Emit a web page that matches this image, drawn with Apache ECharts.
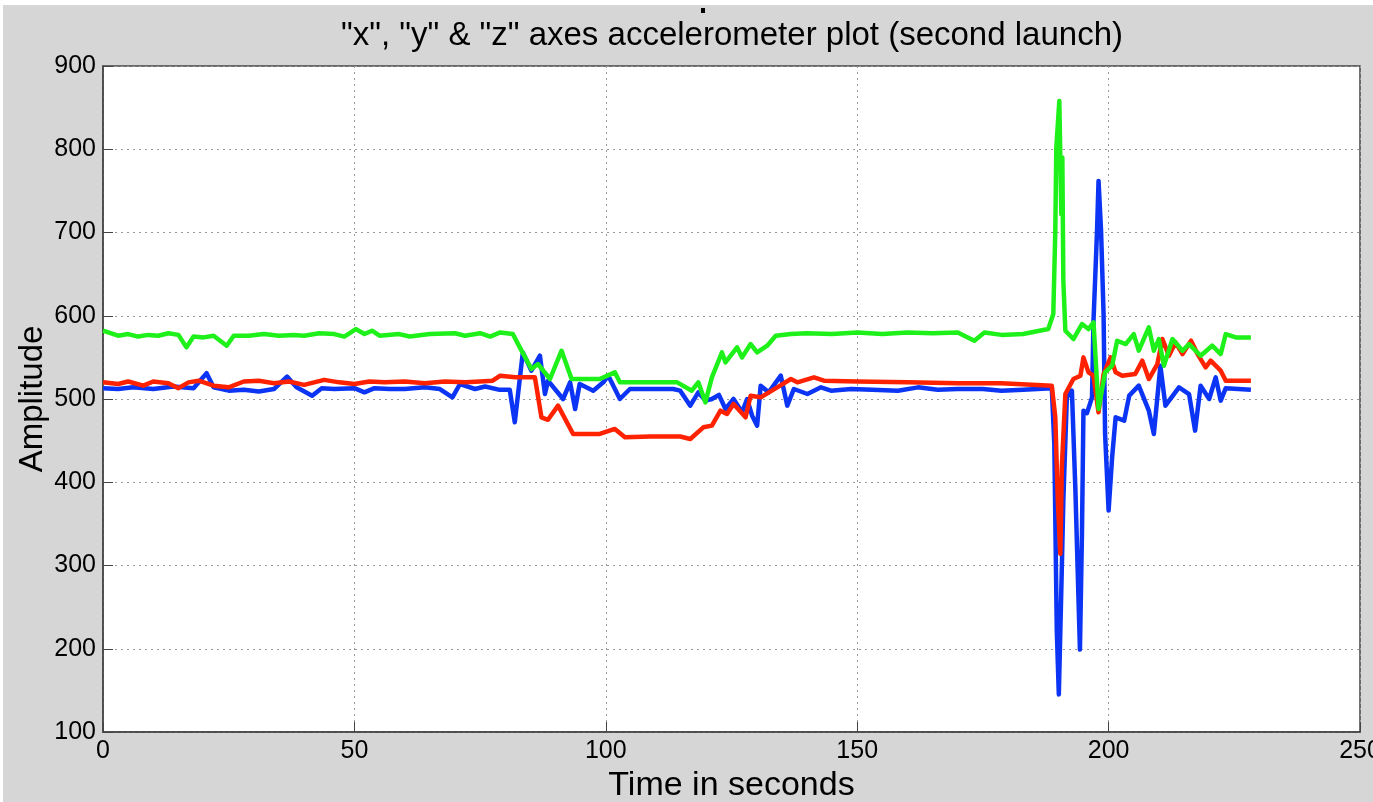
<!DOCTYPE html>
<html>
<head>
<meta charset="utf-8">
<script src="https://cdn.jsdelivr.net/npm/echarts@6/dist/echarts.min.js"></script>
<style>
  html, body { margin: 0; padding: 0; background: #fff; }
  #chart { width: 1373px; height: 802px; }
</style>
</head>
<body>
<div id="chart"></div>
<script>
// time (s) / amplitude pairs
const blueData = [
  [0, 513], [3, 512], [6, 514], [10, 512], [14, 515], [18, 513], [20.6, 531], [22, 514],
  [25, 510], [28, 511], [31, 509], [34, 512], [36.6, 527], [38.5, 514], [41.6, 504], [43.5, 513],
  [46, 512], [50, 513], [52, 508], [54, 513], [57, 512], [60, 512], [64, 514], [67, 512],
  [69.5, 502], [71, 518], [74, 512], [76, 515], [78.9, 511], [80.9, 511], [81.9, 472], [83.5, 556],
  [85.2, 534], [86.9, 552], [87.9, 506], [88.5, 522], [91.5, 500], [92.9, 520], [93.9, 488], [94.8, 518],
  [97.5, 510], [99.5, 520], [100.5, 528], [102.8, 500], [104.8, 512], [108.8, 512], [113.4, 512], [114.8, 510],
  [116.8, 492], [118.4, 508], [119.8, 498], [121.1, 500], [122.5, 505], [123.8, 488], [125.4, 500], [127.1, 484],
  [128.1, 500], [129.1, 480], [130.1, 468], [130.8, 516], [132.4, 508], [134.8, 528], [136.1, 492], [137.4, 512],
  [140.1, 506], [142.8, 514], [144.8, 510], [148.8, 512], [153, 511], [158.1, 510], [162.1, 514], [166, 511],
  [170, 512], [175, 512], [178.7, 510], [183, 511], [188.7, 513], [189.2, 446], [189.7, 221], [190.1, 145],
  [190.7, 298], [191.0, 378], [191.7, 502], [192.7, 510], [193.4, 390], [194.3, 199], [194.7, 338], [195.0, 486],
  [195.7, 483], [196.7, 502], [197.0, 594], [197.7, 702], [198.0, 762], [198.5, 702], [199.0, 602], [199.3, 458],
  [200.0, 366], [200.7, 430], [201.4, 478], [203.1, 474], [204.1, 504], [206.0, 516], [208.0, 486], [209.0, 458],
  [210.3, 540], [211.3, 492], [214.0, 514], [216.0, 506], [217.2, 462], [218.3, 516], [220.0, 500], [221.3, 526],
  [222.3, 498], [223.3, 513], [228.3, 511]
]

const redData = [
  [0, 520], [3, 518], [5, 521], [8, 516], [10, 521], [13, 519], [15, 513], [17, 520],
  [19, 522], [22, 516], [25, 514], [28, 521], [31, 522], [34, 519], [37, 521], [40, 517],
  [44, 523], [47, 520], [50, 518], [53, 521], [56, 520], [60, 521], [64, 519], [68, 521],
  [72, 520], [75, 521], [77.5, 522], [79, 528], [82, 526], [85.9, 526], [87.2, 478], [88.5, 475],
  [90.5, 492], [93.5, 458], [98.8, 458], [101.8, 464], [103.8, 454], [108.8, 455], [114.8, 455], [116.8, 452],
  [119.4, 466], [121.1, 468], [122.8, 486], [124.1, 482], [125.4, 494], [127.8, 478], [128.8, 504], [130.8, 502],
  [134.1, 514], [136.8, 524], [138.1, 520], [141.4, 526], [143.4, 522], [150, 521], [160, 520], [170, 519],
  [178.7, 519], [188.7, 516], [189.4, 478], [189.9, 378], [190.4, 314], [190.7, 418], [191.4, 506], [193.0, 524],
  [194.4, 528], [195.0, 550], [196.0, 532], [197.0, 528], [198.0, 484], [199.0, 530], [200.4, 550], [201.4, 532],
  [202.7, 528], [205.3, 530], [206.7, 546], [208.0, 524], [209.7, 542], [210.7, 572], [212.0, 552], [213.3, 568],
  [214.7, 554], [216.4, 570], [217.7, 554], [219.3, 538], [220.3, 546], [222.3, 534], [223.3, 522], [228.3, 522]
]

const greenData = [
  [0, 582], [1.5, 579], [3, 576], [5, 578], [7, 575], [9, 577], [11, 576], [13, 579],
  [15, 577], [16.6, 562], [18, 575], [20, 574], [22, 576], [24.6, 564], [26, 576], [29, 576],
  [32, 578], [35, 576], [38, 577], [40, 576], [43, 579], [46, 578], [48, 575], [50.3, 584],
  [52, 578], [53.5, 582], [55, 576], [58.9, 578], [61, 575], [65, 578], [70, 579], [72, 576],
  [75, 579], [77, 575], [79, 580], [81.5, 578], [82.9, 562], [85.2, 536], [86.5, 542], [88.9, 524],
  [91.2, 558], [93.2, 524], [98.8, 524], [101.8, 532], [102.8, 520], [108.8, 520], [114.2, 520], [117.1, 510],
  [118.4, 520], [119.8, 496], [121.1, 526], [123.1, 556], [123.8, 544], [126.1, 562], [127.1, 550], [128.8, 566],
  [130.1, 556], [132.1, 564], [133.8, 576], [136.8, 578], [140, 579], [145, 578], [150, 580], [155, 578],
  [160, 580], [165, 579], [170, 580], [173.3, 570], [175.3, 580], [178.7, 577], [183, 578], [188.0, 584],
  [189.0, 602], [189.4, 702], [189.6, 802], [190.2, 858], [190.6, 722], [190.8, 790], [191.0, 642], [191.4, 582],
  [193.0, 572], [194.7, 590], [196.0, 584], [197.0, 592], [198.0, 488], [199.3, 532], [200.7, 540], [201.7, 570],
  [203.4, 566], [205.0, 578], [206.0, 558], [208.0, 586], [209.0, 558], [210.0, 572], [211.0, 540], [212.7, 572],
  [214.7, 558], [216.0, 566], [218.3, 552], [220.6, 564], [222.3, 554], [223.3, 578], [225.3, 574], [228.3, 574]
]

const chart = echarts.init(document.getElementById('chart'))

const font = 'Liberation Sans, Helvetica, Arial, sans-serif'

function lineSeries(name, data, color) {
  return {
    name: name,
    type: 'line',
    data: data,
    showSymbol: false,
    symbol: 'none',
    lineStyle: { color: color, width: 4.5, join: 'round' },
    itemStyle: { color: color }
  }
}

chart.setOption({
  animation: false,
  backgroundColor: '#d6d6d6',
  graphic: [
    { type: 'rect', left: 0, top: 0, shape: { width: 1373, height: 5 }, style: { fill: '#fff' } },
    { type: 'rect', left: 0, top: 0, shape: { width: 3, height: 802 }, style: { fill: '#fff' } },
    { type: 'rect', left: 701, top: 8, shape: { width: 4, height: 5 }, style: { fill: '#000' } }
  ],
  title: {
    text: '"x", "y" & "z" axes accelerometer plot (second launch)',
    left: 727,
    top: 14,
    textAlign: 'center',
    textStyle: { fontFamily: font, fontSize: 33, fontWeight: 'normal', color: '#000' }
  },
  grid: {
    left: 103,
    right: 13,
    top: 66,
    bottom: 70,
    outerBoundsMode: 'none',
    containLabel: false,
    show: true,
    backgroundColor: '#fff',
    borderColor: '#444',
    borderWidth: 1.5
  },
  xAxis: {
    type: 'value',
    min: 0,
    max: 250,
    interval: 50,
    name: 'Time in seconds',
    nameLocation: 'middle',
    nameGap: 37,
    nameMoveOverlap: false,
    nameTextStyle: { fontFamily: font, fontSize: 34, color: '#000' },
    axisLine: { show: true, lineStyle: { color: '#444', width: 1.5 } },
    axisTick: { show: true, inside: true, length: 10, lineStyle: { color: '#444' } },
    axisLabel: { fontFamily: font, fontSize: 25, color: '#000', margin: 7 },
    splitLine: { show: true, lineStyle: { color: '#999', type: [2, 4], width: 1 } }
  },
  yAxis: {
    type: 'value',
    min: 100,
    max: 900,
    interval: 100,
    name: 'Amplitude',
    nameLocation: 'middle',
    nameGap: 54,
    nameMoveOverlap: false,
    nameTextStyle: { fontFamily: font, fontSize: 33, color: '#000' },
    axisLine: { show: true, lineStyle: { color: '#444', width: 1.5 } },
    axisTick: { show: true, inside: true, length: 10, lineStyle: { color: '#444' } },
    axisLabel: { fontFamily: font, fontSize: 25, color: '#000', margin: 7 },
    splitLine: { show: true, lineStyle: { color: '#999', type: [2, 4], width: 1 } }
  },
  series: [
    lineSeries('x', blueData, '#0b34f5'),
    lineSeries('y', redData, '#ff2200'),
    lineSeries('z', greenData, '#1ef01a')
  ]
})
</script>
</body>
</html>
